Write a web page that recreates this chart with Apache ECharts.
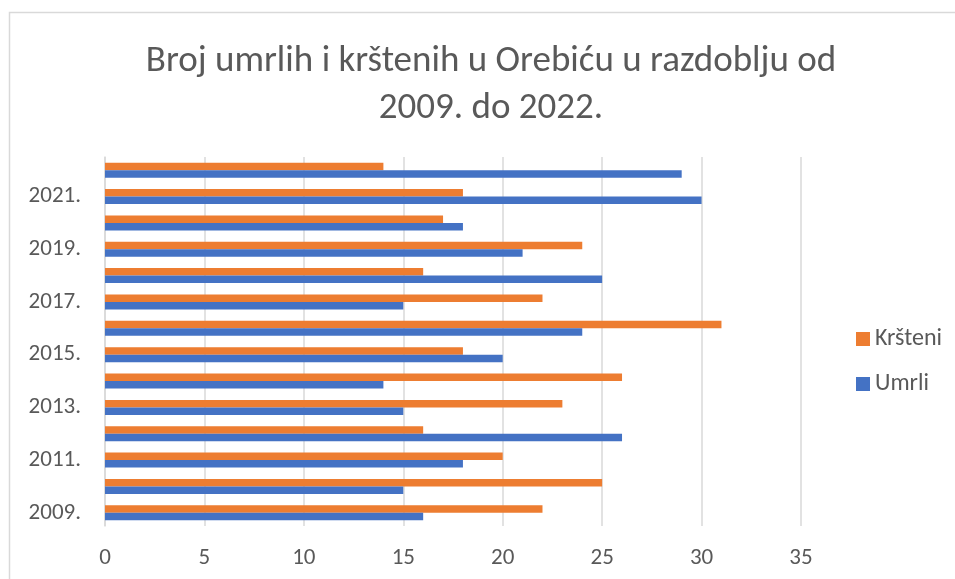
<!DOCTYPE html>
<html>
<head>
<meta charset="utf-8">
<script src="https://cdn.jsdelivr.net/npm/echarts@6/dist/echarts.min.js"></script>
<style>
html,body{margin:0;padding:0;background:#fff;}
#chart{width:955px;height:579px;}
</style>
</head>
<body>
<div id="chart"></div>
<script>
const titleText = 'Broj umrlih i krštenih u Orebiću u razdoblju od\n2009. do 2022.';
const categories = ['2009.','2010.','2011.','2012.','2013.','2014.','2015.','2016.','2017.','2018.','2019.','2020.','2021.','2022.'];
const umrli =   [16, 15, 18, 26, 15, 14, 20, 24, 15, 25, 21, 18, 30, 29];
const krsteni = [22, 25, 20, 16, 23, 26, 18, 31, 22, 16, 24, 17, 18, 14];
const xTicks = [0, 5, 10, 15, 20, 25, 30, 35];

const FONT = "Carlito, 'Liberation Sans', sans-serif";
const chart = echarts.init(document.getElementById('chart'), null, {renderer: 'canvas'});
chart.setOption({
  backgroundColor: '#ffffff',
  animation: false,
  graphic: [{
    type: 'rect',
    shape: {x: 9.5, y: 12.5, width: 960, height: 600},
    style: {fill: 'none', stroke: '#d9d9d9', lineWidth: 1.5},
    silent: true
  }],
  title: {
    text: titleText,
    left: 486,
    textAlign: 'center',
    top: 33,
    textStyle: {fontFamily: FONT, fontSize: 37, fontWeight: 'normal', color: '#595959', lineHeight: 47}
  },
  legend: {
    data: ['Kršteni', 'Umrli'],
    orient: 'vertical',
    left: 851,
    top: 322,
    itemWidth: 14,
    itemHeight: 14,
    itemGap: 21,
    icon: 'rect',
    textStyle: {fontFamily: FONT, fontSize: 24, color: '#595959'}
  },
  grid: {left: 105, right: 154, top: 157, bottom: 53, containLabel: false},
  xAxis: {
    type: 'value',
    min: xTicks[0],
    max: xTicks[xTicks.length - 1],
    interval: 5,
    axisLine: {show: false},
    axisTick: {show: false},
    splitLine: {show: true, lineStyle: {color: '#d9d9d9', width: 1.5}},
    axisLabel: {fontFamily: FONT, fontSize: 23, color: '#595959', margin: 21}
  },
  yAxis: {
    type: 'category',
    data: categories,
    axisLine: {show: true, lineStyle: {color: '#d9d9d9', width: 1.5}},
    axisTick: {show: false},
    axisLabel: {interval: 1, fontFamily: FONT, fontSize: 23, color: '#595959', margin: 24}
  },
  series: [
    {name: 'Kršteni', type: 'bar', data: krsteni, barWidth: 7.5, barGap: '0%',
     itemStyle: {color: '#ed7d31'}},
    {name: 'Umrli', type: 'bar', data: umrli, barWidth: 7.5, barGap: '0%',
     itemStyle: {color: '#4472c4'}}
  ]
});
</script>
</body>
</html>
